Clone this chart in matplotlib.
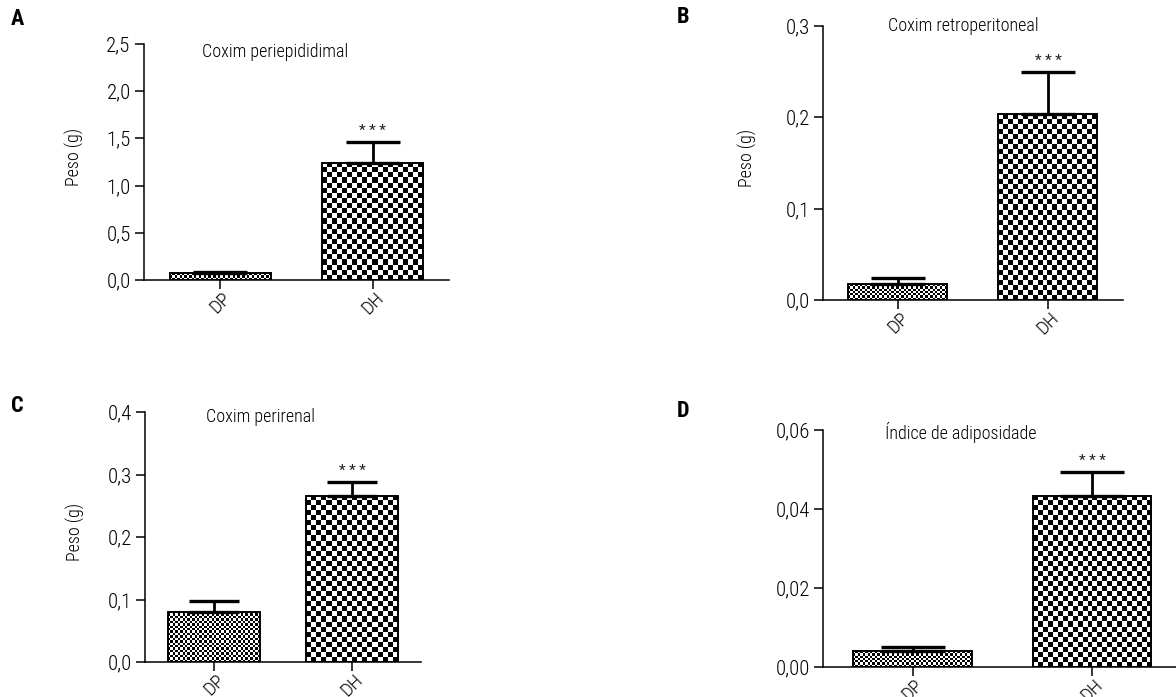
import numpy as np
import matplotlib
matplotlib.use("Agg")
import matplotlib.pyplot as plt
import matplotlib.font_manager as fm
from matplotlib.ticker import FuncFormatter, MultipleLocator


def pick_condensed_font():
    """Find a narrow sans face among the installed fonts."""
    entries = fm.fontManager.ttflist
    names = {e.name for e in entries}
    for name in ['Liberation Sans Narrow', 'Arial Narrow', 'Roboto Condensed',
                 'Noto Sans Condensed', 'Open Sans Condensed',
                 'DejaVu Sans Condensed']:
        if name in names:
            return name, 'normal'
    for base in ['Noto Sans', 'Roboto', 'Open Sans', 'DejaVu Sans', 'Lato', 'Inter']:
        for e in entries:
            if e.name == base and e.stretch in ('condensed', 'semi-condensed'):
                return base, e.stretch
    return 'Liberation Sans', 'normal'


font_name, font_stretch = pick_condensed_font()
plt.rcParams['font.family'] = [font_name, 'DejaVu Sans']
plt.rcParams['font.stretch'] = font_stretch
plt.rcParams['font.weight'] = 'light'
plt.rcParams['axes.labelweight'] = 'light'

# values
groups = ['DP', 'DH']
panel_letters = ['A', 'B', 'C', 'D']
panel_titles = ['Coxim periepididimal', 'Coxim retroperitoneal',
                'Coxim perirenal', 'Índice de adiposidade']
dp_mean = [0.07, 0.0175, 0.080, 0.0040]
dp_err = [0.015, 0.0065, 0.018, 0.0010]
dh_mean = [1.24, 0.2036, 0.2656, 0.0433]
dh_err = [0.22, 0.046, 0.022, 0.0061]
y_max = [2.5, 0.3, 0.4, 0.06]
y_step = [0.5, 0.1, 0.1, 0.02]
y_decimals = [1, 1, 1, 2]
y_labels = ['Peso (g)', 'Peso (g)', 'Peso (g)', '']

# axes positions in figure fraction (left, bottom, width, height)
positions = [
    (0.1224, 0.5983, 0.2594, 0.3386),
    (0.6998, 0.5696, 0.2551, 0.3931),
    (0.1233, 0.0502, 0.2347, 0.3587),
    (0.6998, 0.0430, 0.3052, 0.3401),
]
title_xy = [(0.43, 0.965), (0.467, 1.0), (0.42, 0.98), (0.385, 0.99)]
ylabel_x = [-0.196, -0.22, -0.217, -0.2]
letter_xy = [(0.015, 0.973), (0.581, 0.976), (0.015, 0.418), (0.581, 0.411)]


def checker_fill(ax, bar, cell_px):
    """Fill a bar with a black/white checkerboard clipped to the bar."""
    x0 = bar.get_x()
    x1 = x0 + bar.get_width()
    h = bar.get_height()
    p0 = ax.transData.transform((x0, 0))
    p1 = ax.transData.transform((x1, h))
    nx = max(1, int(round((p1[0] - p0[0]) / cell_px)))
    ny = max(1, int(round((p1[1] - p0[1]) / cell_px)))
    board = np.add.outer(np.arange(ny), np.arange(nx)) % 2
    im = ax.imshow(board, cmap='gray_r', vmin=0, vmax=1, origin='lower',
                   extent=(x0, x1, 0, h), aspect='auto',
                   interpolation='nearest', zorder=1)
    im.set_clip_path(bar)


fig = plt.figure(figsize=(11.76, 6.97), dpi=100)

for i in range(4):
    ax = fig.add_axes(positions[i])
    means = [dp_mean[i], dh_mean[i]]
    errs = [dp_err[i], dh_err[i]]
    x = np.arange(len(groups))
    ax.set_xlim(-0.5, 1.5)
    ax.set_ylim(0, y_max[i])

    bars = ax.bar(x, means, width=0.66, facecolor='none', edgecolor='black',
                  linewidth=1.4, zorder=2)
    checker_fill(ax, bars[0], 2.4)
    checker_fill(ax, bars[1], 5.0)
    ax.set_xlim(-0.5, 1.5)
    ax.set_ylim(0, y_max[i])

    # cap about half a bar wide
    bar_px = (ax.transData.transform((0.66, 0))[0]
              - ax.transData.transform((0, 0))[0])
    cap = bar_px * 0.27 * 72 / fig.dpi
    ax.errorbar(x, means, yerr=[np.zeros(len(errs)), errs], fmt='none',
                ecolor='black', elinewidth=2.0, capsize=cap, capthick=2.4,
                zorder=3)
    ax.annotate('* * *', (x[1], means[1] + errs[1]), xytext=(0, 3),
                textcoords='offset points', ha='center', va='bottom',
                fontsize=11, fontweight='normal', color='#222222')

    ax.text(title_xy[i][0], title_xy[i][1], panel_titles[i],
            transform=ax.transAxes, ha='center', va='center', fontsize=13)

    ax.spines['top'].set_visible(False)
    ax.spines['right'].set_visible(False)
    ax.spines['left'].set_linewidth(1.1)
    ax.spines['bottom'].set_linewidth(1.1)
    ax.yaxis.set_major_locator(MultipleLocator(y_step[i]))
    d = y_decimals[i]
    ax.yaxis.set_major_formatter(
        FuncFormatter(lambda v, pos, d=d: f'{v:.{d}f}'.replace('.', ',')))
    ax.tick_params(axis='both', direction='out', length=6.5, width=1.1,
                   labelsize=15, pad=3)
    ax.tick_params(axis='x', pad=0, labelsize=14)
    ax.set_xticks(x)
    ax.set_xticklabels(groups, rotation=45, ha='center', va='top')
    if y_labels[i]:
        ax.set_ylabel(y_labels[i], fontsize=13)
        ax.yaxis.set_label_coords(ylabel_x[i], 0.52)

    fig.text(letter_xy[i][0], letter_xy[i][1], panel_letters[i],
             fontsize=16, fontweight='bold', ha='center', va='center')

fig.savefig('out.png', dpi=100)
